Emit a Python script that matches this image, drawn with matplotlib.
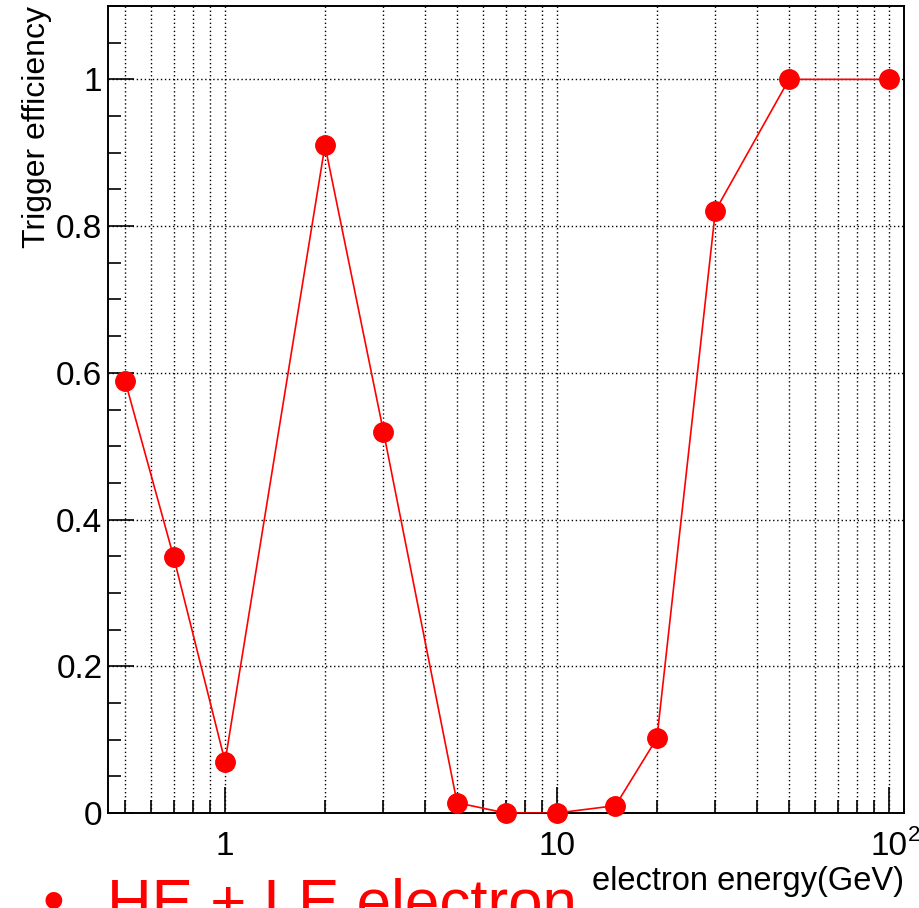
import numpy as np
import matplotlib
matplotlib.use("Agg")
from matplotlib import pyplot as plt
from matplotlib.ticker import FixedLocator, FixedFormatter, MultipleLocator

plt.rcParams['font.family'] = ['Liberation Sans', 'DejaVu Sans']

# electron energy (GeV) and trigger efficiency
energy = [0.5, 0.7, 1, 2, 3, 5, 7, 10, 15, 20, 30, 50, 100]
efficiency = [0.589, 0.349, 0.070, 0.910, 0.520, 0.014, 0.0, 0.0, 0.010, 0.102, 0.821, 1.0, 1.0]

x_major = [1, 10, 100]
x_major_labels = ['1', '10', '10']
x_minor = [0.5, 0.6, 0.7, 0.8, 0.9, 2, 3, 4, 5, 6, 7, 8, 9, 20, 30, 40, 50, 60, 70, 80, 90]
y_major = [0, 0.2, 0.4, 0.6, 0.8, 1.0]
y_major_labels = ['0', '0.2', '0.4', '0.6', '0.8', '1']

fig = plt.figure(figsize=(9.2, 9.08), dpi=100)
ax = fig.add_axes([108/920, 1-813/908, 796/920, 807/908])

ax.plot(energy, efficiency, '-', color='#ff0000', lw=1.2, zorder=3)
ax.plot(energy, efficiency, 'o', color='#ff0000', ms=14, zorder=4, clip_on=False)

ax.set_xscale('log')
ax.set_xlim(0.444, 111)
ax.set_ylim(0, 1.1)

ax.xaxis.set_major_locator(FixedLocator(x_major))
ax.xaxis.set_major_formatter(FixedFormatter(x_major_labels))
ax.xaxis.set_minor_locator(FixedLocator(x_minor))
ax.xaxis.set_minor_formatter(FixedFormatter([''] * len(x_minor)))
ax.yaxis.set_minor_locator(MultipleLocator(0.05))
ax.set_yticks(y_major)
ax.set_yticklabels(y_major_labels)

# exponent of the 10^2 label, ROOT style
ax.annotate('2', xy=(100, 0), xycoords='data', xytext=(13.6, -8.5), textcoords='offset points',
            fontsize=16, ha='left', va='top', annotation_clip=False)

# dotted grid: every x tick, major y only
ax.grid(True, which='major', axis='both', color='black', ls=(0, (1, 1.9)), lw=1.0)
ax.grid(True, which='minor', axis='x', color='black', ls=(0, (1, 1.9)), lw=1.0)

ax.tick_params(which='both', direction='in', top=False, right=False, width=1.2, colors='black')
ax.tick_params(which='major', length=19, labelsize=24)
ax.tick_params(which='minor', length=9.5)
ax.tick_params(axis='x', which='major', pad=13)
ax.tick_params(axis='y', which='major', pad=4)

for s in ax.spines.values():
    s.set_linewidth(1.4)

ax.set_ylabel('Trigger efficiency', fontsize=23, loc='top')
ax.yaxis.set_label_coords(-0.070, 1.0)
ax.set_xlabel('electron energy(GeV)', fontsize=23.5, loc='right')
ax.xaxis.set_label_coords(1.0, -0.066)

fig.text(53/920, (908-921)/908, '\u2022', color='#ff0000', fontsize=44.6, ha='center', va='baseline')
fig.text(107/920, (908-921)/908, 'HE + LE electron', color='#ff0000', fontsize=44.6, ha='left', va='baseline')

fig.savefig('out.png', dpi=100)
